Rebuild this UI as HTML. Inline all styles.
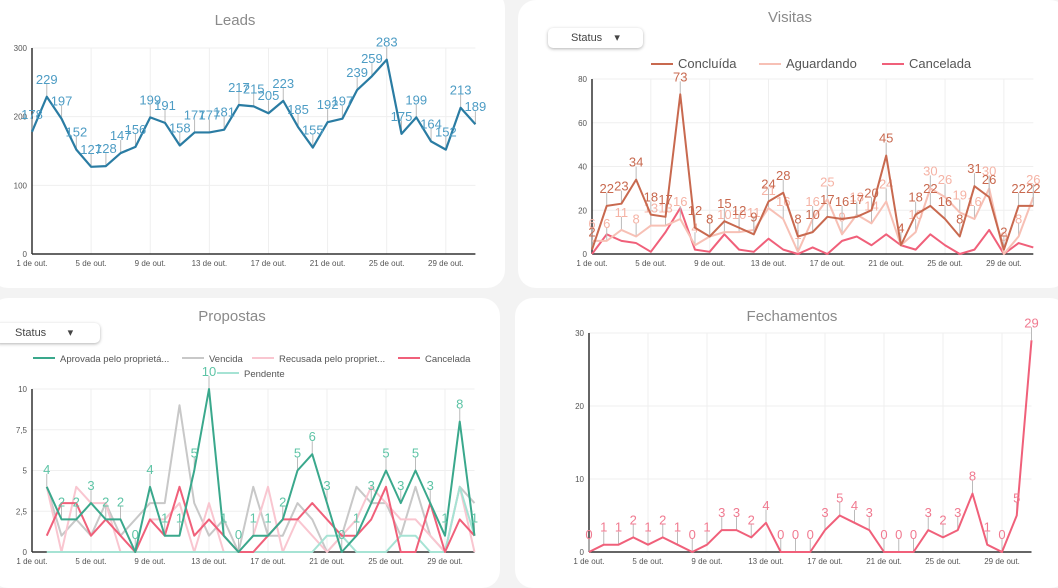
<!DOCTYPE html>
<html><head><meta charset="utf-8">
<style>
body{margin:0;width:1058px;height:577px;background:#f3f3f3;font-family:"Liberation Sans",sans-serif;overflow:hidden;position:relative}
.card{position:absolute;background:#fff;border-radius:18px}
svg{position:absolute;left:0;top:0}
.btn{position:absolute;background:#fff;border-radius:5px;box-shadow:0 1px 3px rgba(0,0,0,.3);font-size:11px;color:#444;line-height:20px}
</style></head><body>
<div class="card" style="left:-10px;top:-10px;width:515px;height:298px"></div>
<div class="card" style="left:518px;top:0;width:550px;height:288px"></div>
<div class="card" style="left:-10px;top:298px;width:510px;height:290px"></div>
<div class="card" style="left:515px;top:298px;width:553px;height:290px"></div>
<div class="btn" style="left:548px;top:28px;width:95px;height:20px;text-indent:23px">Status &nbsp;&nbsp;&nbsp;▾</div>
<div class="btn" style="left:-5px;top:323px;width:105px;height:20px;text-indent:20px">Status &nbsp;&nbsp;&nbsp;&nbsp;&nbsp;&nbsp;▾</div>
<svg id="s" width="1058" height="577"></svg>
<script>
const days=["1 de out.","5 de out.","9 de out.","13 de out.","17 de out.","21 de out.","25 de out.","29 de out."];
const leads=[178,229,197,152,127,128,147,156,199,191,158,177,177,181,217,215,205,223,185,155,192,197,239,259,283,175,199,164,152,213,189];
const visConcluida=[2,22,23,34,18,17,73,12,8,15,12,9,24,28,8,10,17,16,17,20,45,4,18,22,16,8,31,26,2,22,22];
const visAguardando=[6,6,11,8,13,13,16,4,8,10,10,11,21,16,1,16,25,9,18,14,24,4,10,30,26,19,16,30,0,8,26];
const visCancelada=[0,9,6,5,1,10,21,2,1,9,2,1,7,2,0,3,0,6,8,4,9,4,2,9,4,0,2,11,0,5,3];
const propAprovada=[4,2,2,3,2,2,0,4,1,1,5,10,1,0,1,1,2,5,6,3,0,1,3,5,3,5,3,1,8,1];
const propVencida=[4,1,2,1,3,1,2,3,3,9,3,1,2,0,4,1,1,3,2,0,1,4,3,3,1,4,1,0,4,3];
const propRecusada=[4,0,4,3,3,0,0,2,2,3,0,3,0,0,1,4,0,2,1,0,1,2,4,3,2,2,1,0,4,0];
const propCancelada=[1,3,3,1,2,1,0,2,1,4,1,2,1,0,0,1,2,2,3,2,1,1,2,4,0,0,3,0,2,1];
const propPendente=[0,0,0,0,0,0,0,0,0,0,0,0,0,0,0,0,0,0,0,1,1,0,0,0,1,1,0,0,4,1];
const fechamentos=[0,1,1,2,1,2,1,0,1,3,3,2,4,0,0,0,3,5,4,3,0,0,0,3,2,3,8,1,0,5,29];
const leadsTicks=[0,100,200,300], visTicks=[0,20,40,60,80], propTicks=[0,2.5,5,7.5,10], fechTicks=[0,10,20,30];
const svg=document.getElementById('s');const NS='http://www.w3.org/2000/svg';
function el(t,a,txt){const e=document.createElementNS(NS,t);for(const k in a)e.setAttribute(k,a[k]);if(txt!==undefined)e.textContent=txt;svg.appendChild(e);return e;}
function axes(c,name){
  const X=i=>c.x0+i*c.step, Y=v=>c.y0-v*c.k;
  const right=X(30);
  c.ticks.forEach(t=>{const g=el('line',{x1:c.x0,x2:right,y1:Y(t),y2:Y(t),stroke:'#efefef'});
    
    const l=el('text',{x:c.x0-5,y:Y(t)+3,'font-size':8,fill:'#555','text-anchor':'end'},String(t).replace('.',','));
    });
  days.forEach((d,j)=>{const x=X(j*4);el('line',{x1:x,x2:x,y1:Y(c.ticks[c.ticks.length-1]),y2:c.y0,stroke:'#efefef'});
    const l=el('text',{x:x,y:c.y0+12,'font-size':8,fill:'#555','text-anchor':'middle'},d);
    });
  el('line',{x1:c.x0,x2:c.x0,y1:Y(c.ticks[c.ticks.length-1]),y2:c.y0,stroke:'#333','stroke-width':1.5});
  el('line',{x1:c.x0,x2:right,y1:c.y0,y2:c.y0,stroke:'#333','stroke-width':1.5});
  return {X,Y};
}
function series(c,ax,data,off,color,w,labels,lc,name){
  const pts=data.map((v,i)=>ax.X(i+off)+','+ax.Y(v)).join(' ');
  if(labels){data.forEach((v,i)=>{const x=ax.X(i+off),y=ax.Y(v);
    el('line',{x1:x,x2:x,y1:y,y2:y-13,stroke:'#bbb','stroke-width':1});});}
  const p=el('polyline',{points:pts,fill:'none',stroke:color,'stroke-width':w,'stroke-linejoin':'round'});
  
  if(labels){data.forEach((v,i)=>{const t=el('text',{x:ax.X(i+off),y:ax.Y(v)-13,'font-size':c.fs,fill:lc,'text-anchor':'middle'},v);
    });}
}
function title(x,y,t,name){const e=el('text',{x:x,y:y,'font-size':15,fill:'#8a8a8a','text-anchor':'middle'},t);
  }
function legend(x,y,color,t,fs,name){el('line',{x1:x,x2:x+22,y1:y-4,y2:y-4,stroke:color,'stroke-width':2});
  const e=el('text',{x:x+27,y:y,'font-size':fs,fill:'#555'},t);
  }
// Leads
title(235,25,'Leads','leads-title');
const cL={x0:32,step:14.78,y0:254,k:206/300,ticks:leadsTicks,fs:13};
const aL=axes(cL,'leads');
series(cL,aL,leads,0,'#2a7ca3',2.2,true,'#4d9cc4','leads');
// Visitas
title(790,22,'Visitas','visitas-title');
legend(651,68,'#c8694f','Concluída',13,'legend-concluida');
legend(759,68,'#f7c0b5','Aguardando',13,'legend-aguardando');
legend(882,68,'#f0607a','Cancelada',13,'legend-cancelada');
const cV={x0:592,step:14.71,y0:254,k:175/80,ticks:visTicks,fs:13};
const aV=axes(cV,'visitas');
series(cV,aV,visCancelada,0,'#f0607a',2,false,'','visitas-cancelada');
series(cV,aV,visAguardando,0,'#f7c0b5',2,true,'#f5b3a5','visitas-aguardando');
series(cV,aV,visConcluida,0,'#c8694f',2,true,'#c8694f','visitas-concluida');
// Propostas
title(232,321,'Propostas','propostas-title');
legend(33,362,'#3aa88c','Aprovada pelo proprietá...',9.5,'legend-aprovada');
legend(182,362,'#c8c8c8','Vencida',9.5,'legend-vencida');
legend(252,362,'#f9c6d0','Recusada pelo propriet...',9.5,'legend-recusada');
legend(398,362,'#f0607a','Cancelada',9.5,'legend-prop-cancelada');
legend(217,377,'#a6e3d4','Pendente',9.5,'legend-pendente');
const cP={x0:32,step:14.75,y0:552,k:163/10,ticks:propTicks,fs:13};
const aP=axes(cP,'propostas');
series(cP,aP,propVencida,1,'#c8c8c8',2,false,'','propostas-vencida');
series(cP,aP,propRecusada,1,'#f9c6d0',2,false,'','propostas-recusada');
series(cP,aP,propPendente,1,'#a6e3d4',2,false,'','propostas-pendente');
series(cP,aP,propCancelada,1,'#f0607a',2,false,'','propostas-cancelada');
series(cP,aP,propAprovada,1,'#3aa88c',2,true,'#5ec4a6','propostas-aprovada');
// Fechamentos
title(792,321,'Fechamentos','fechamentos-title');
const cF={x0:589,step:14.75,y0:552,k:73/10,ticks:fechTicks,fs:13};
const aF=axes(cF,'fechamentos');
series(cF,aF,fechamentos,0,'#f0607a',2,true,'#f07a90','fechamentos');
</script>
</body></html>
